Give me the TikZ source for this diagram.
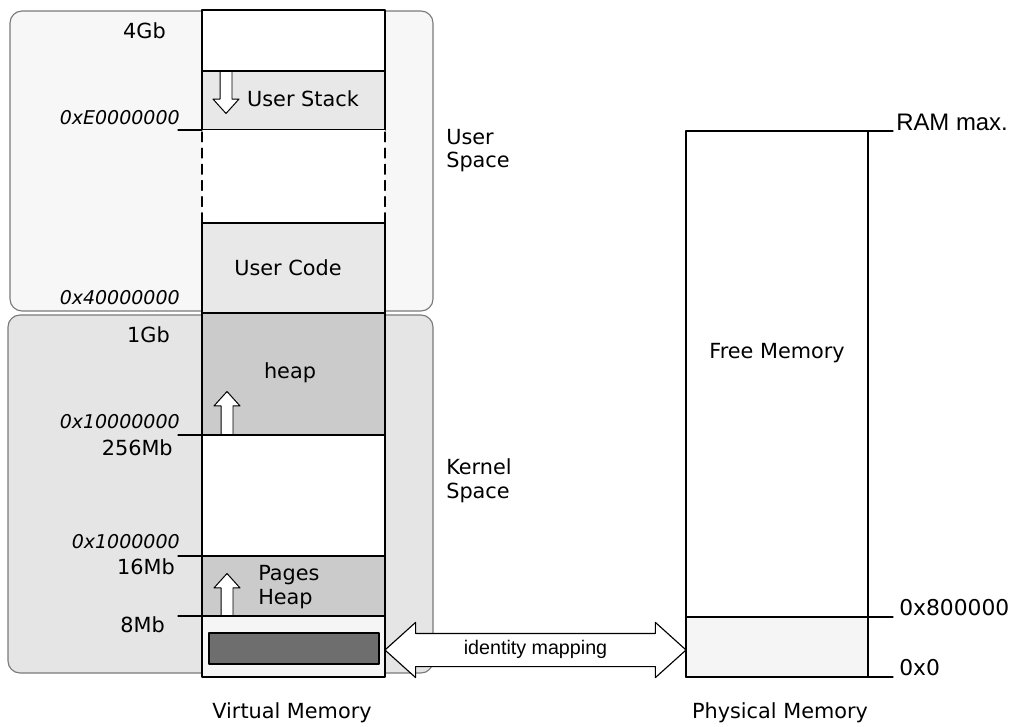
\documentclass[tikz,border=0pt]{standalone}
\usepackage{fontspec}
\setmainfont{DejaVu Sans}
\newfontfamily\arialfont{Liberation Sans}
\usepackage{xcolor}
\usepackage{tikz}
\usetikzlibrary{shapes.arrows,positioning,calc}
\definecolor{userbg}{HTML}{F7F7F7}
\definecolor{kernbg}{HTML}{E5E5E5}
\definecolor{lightseg}{HTML}{E8E8E8}
\definecolor{heapseg}{HTML}{CBCBCB}
\definecolor{lowseg}{HTML}{F5F5F5}
\definecolor{mapseg}{HTML}{6E6E6E}
\definecolor{spaceline}{HTML}{7A7A7A}

\begin{document}
\begin{tikzpicture}[x=0.025cm,y=-0.025cm,line cap=round,line join=round,
  spacebox/.style={draw=spaceline,line width=0.8pt,rounded corners=0.3cm},
  seg/.style={draw=black,line width=0.9pt},
  lbl/.style={inner sep=0pt,font=\fontsize{14.8}{16.5}\selectfont},
  addr/.style={inner sep=0pt,font=\fontsize{13.5}{16}\selectfont\itshape},
  phys/.style={inner sep=0pt,font=\fontsize{15.5}{18}\selectfont},
  hollow/.style={single arrow,draw=black,fill=white,line width=0.7pt,
    inner sep=0.1375cm,single arrow head extend=0.175cm,
    single arrow tip angle=84,anchor=tail},
  idmap/.style={double arrow,draw=black,fill=white,line width=0.8pt,
    minimum height=7.525cm,double arrow head extend=0.275cm,
    double arrow tip angle=84,inner xsep=0pt,inner ysep=4.88pt,
    text height=10pt,text depth=3pt,
    font=\arialfont\fontsize{14}{16}\selectfont}]
\useasboundingbox (0,0) rectangle (1019,727);
% user / kernel space
\draw[spacebox,fill=userbg] (10,11) rectangle (433,311);
\draw[spacebox,fill=kernbg] (8,315) rectangle (433,673);
% virtual memory column
\draw[seg,fill=white] (202,10) rectangle (385,71);
\draw[seg,fill=lightseg] (202,71) rectangle (385,130);
\fill[white] (202,130) rectangle (385,223);
\draw[seg,dash pattern=on 7pt off 4.5pt] (202,132) -- (202,223);
\draw[seg,dash pattern=on 7pt off 4.5pt] (385,132) -- (385,223);
\draw[seg,fill=lightseg] (202,223) rectangle (385,313);
\draw[seg,fill=heapseg] (202,313) rectangle (385,435);
\draw[seg,fill=white] (202,435) rectangle (385,556);
\draw[seg,fill=heapseg] (202,556) rectangle (385,616);
\draw[seg,fill=lowseg] (202,616) rectangle (385,677);
\draw[seg,fill=mapseg] (209,633) rectangle (379,664);
\foreach \y in {130,435,556,616}
  \draw[seg] (178,\y) -- (202,\y);
\node[hollow,minimum height=1.05cm,shape border rotate=270] (stackdir) at (226,71) {};
\node[hollow,minimum height=1.075cm,shape border rotate=90] (heapdir) at (227,435) {};
\node[hollow,minimum height=1.05cm,shape border rotate=90] (pagesdir) at (227,616) {};
\node[lbl,anchor=base] (ustack) at (303,107) {User Stack};
\node[lbl,anchor=base] (ucode) at (288,276) {User Code};
\node[lbl,anchor=base] (heap) at (290,379) {heap};
\node[lbl,anchor=base west,align=left] (pheap) at (258,604) {Pages\\Heap};
\node[lbl,anchor=base east] (g4) at (166,39) {4Gb};
\node[lbl,anchor=base east] (g1) at (170,343) {1Gb};
\node[lbl,anchor=base east] (m256) at (173,455) {256Mb};
\node[lbl,anchor=base east] (m16) at (175,574) {16Mb};
\node[lbl,anchor=base east] (m8) at (165,632) {8Mb};
\node[addr,anchor=base east] (ae) at (180,125) {0xE0000000};
\node[addr,anchor=base east] (a4) at (180,305) {0x40000000};
\node[addr,anchor=base east] (a10) at (180,428) {0x10000000};
\node[addr,anchor=base east] (a1) at (180,548) {0x1000000};
\node[lbl,anchor=base west,align=left] (uspace) at (446,168) {User\\Space};
\node[lbl,anchor=base west,align=left] (kspace) at (446,498) {Kernel\\Space};
\node[lbl,anchor=base] (vmem) at (292,718) {Virtual Memory};
% physical memory
\draw[seg,fill=white] (686,131) rectangle (868,677);
\draw[seg,fill=lowseg] (686,617) rectangle (868,677);
\draw[seg] (868,131) -- (893,131);
\draw[seg] (868,617) -- (893,617);
\draw[seg] (868,677) -- (893,677);
\node[lbl,anchor=base] (free) at (777,359) {Free Memory};
\node[inner sep=0pt,anchor=base west,font=\arialfont\fontsize{17}{20}\selectfont] (rammax) at (896,131) {RAM max.};
\node[phys,anchor=base west] (p8) at (899,615) {0x800000};
\node[phys,anchor=base west] (p0) at (899,675) {0x0};
\node[lbl,anchor=base] (pmem) at (780,718) {Physical Memory};
% identity mapping
\coordinate (vlow) at (385,650);
\coordinate (plow) at (686,650);
\path (vlow) -- (plow) node[midway,idmap] (idarrow) {identity mapping};
\end{tikzpicture}
\end{document}
